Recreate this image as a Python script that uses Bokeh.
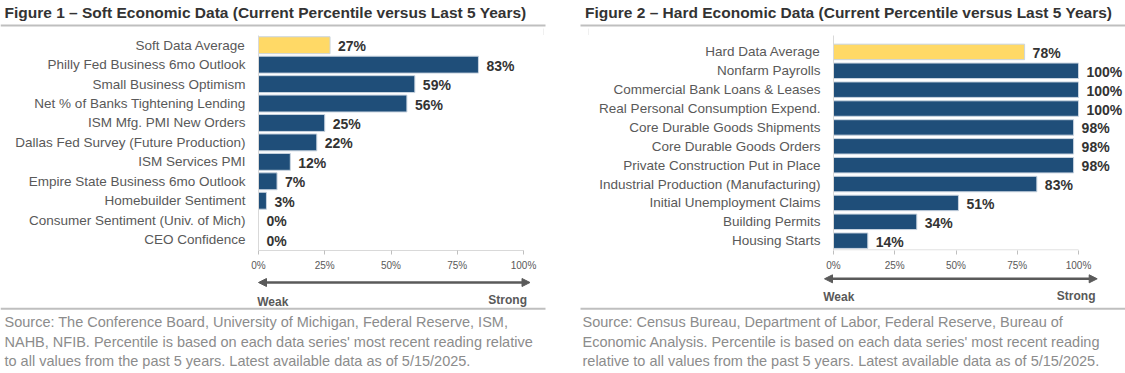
from bokeh.plotting import figure
from bokeh.models import (Range1d, FixedTicker, PrintfTickFormatter,
                          ColumnDataSource, LabelSet, Arrow, NormalHead)
from bokeh.layouts import row, column
from bokeh.core.properties import value
from bokeh.embed import file_html
from bokeh.resources import INLINE

# ---------------- data ----------------
soft_labels = ["Soft Data Average", "Philly Fed Business 6mo Outlook", "Small Business Optimism",
               "Net % of Banks Tightening Lending", "ISM Mfg. PMI New Orders",
               "Dallas Fed Survey (Future Production)", "ISM Services PMI",
               "Empire State Business 6mo Outlook", "Homebuilder Sentiment",
               "Consumer Sentiment (Univ. of Mich)", "CEO Confidence"]
soft_values = [27, 83, 59, 56, 25, 22, 12, 7, 3, 0, 0]

hard_labels = ["Hard Data Average", "Nonfarm Payrolls", "Commercial Bank Loans & Leases",
               "Real Personal Consumption Expend.", "Core Durable Goods Shipments",
               "Core Durable Goods Orders", "Private Construction Put in Place",
               "Industrial Production (Manufacturing)", "Initial Unemployment Claims",
               "Building Permits", "Housing Starts"]
hard_values = [78, 100, 100, 100, 98, 98, 98, 83, 51, 34, 14]

tick_values = [0, 25, 50, 75, 100]

soft_title = "Figure 1 \u2013 Soft Economic Data (Current Percentile versus Last 5 Years)"
hard_title = "Figure 2 \u2013 Hard Economic Data (Current Percentile versus Last 5 Years)"
soft_source = ["Source: The Conference Board, University of Michigan, Federal Reserve, ISM,",
               "NAHB, NFIB. Percentile is based on each data series' most recent reading relative",
               "to all values from the past 5 years. Latest available data as of 5/15/2025."]
hard_source = ["Source: Census Bureau, Department of Labor, Federal Reserve, Bureau of",
               "Economic Analysis. Percentile is based on each data series' most recent reading",
               "relative to all values from the past 5 years. Latest available data as of 5/15/2025."]
weak_text, strong_text = "Weak", "Strong"

# ---------------- styles / layout ----------------
NAVY = "#1f4e79"
YELLOW = "#ffd966"
FONT = "Liberation Sans"
W, H = 1125, 373
TOP_H = 35          # title band
CHART_H = 238       # chart row (frame 35..251 + axis border)
BOT_H = H - TOP_H - CHART_H
AXIS_B = 22         # bottom border used by the x axis


def band(height, y0):
    """A full-width figure whose frame is its whole canvas; y in page pixels (top-down)."""
    b = figure(width=W, height=height, output_backend="svg", toolbar_location=None, tools="",
               x_range=Range1d(0, W), y_range=Range1d(y0 + height, y0),
               x_axis_location=None, y_axis_location=None, title=None,
               min_border_left=0, min_border_right=0, min_border_top=0, min_border_bottom=0)
    b.outline_line_color = None
    b.xgrid.visible = False
    b.ygrid.visible = False
    b.background_fill_color = "white"
    b.border_fill_color = "white"
    return b


def chart(labels, values, cfg):
    n = len(labels)
    idx = list(range(n))
    ox, fl, fr, width = cfg["ox"], cfg["fl"], cfg["fr"], cfg["width"]
    p = figure(width=width, height=CHART_H, output_backend="svg", toolbar_location=None,
               tools="", title=None,
               x_range=Range1d(0, cfg["x_end"]), y_range=Range1d(cfg["y_bot"], cfg["y_top"]),
               min_border_left=fl - ox, min_border_right=width - (fr - ox),
               min_border_top=0, min_border_bottom=AXIS_B)
    p.outline_line_color = None
    p.background_fill_color = "white"
    p.border_fill_color = "white"
    p.xgrid.visible = False
    p.ygrid.visible = False

    colors = [YELLOW] + [NAVY] * (n - 1)
    src = ColumnDataSource(dict(pos=idx, val=values, color=colors,
                                txt=[f"{v}%" for v in values]))
    p.hbar(y="pos", right="val", left=0, height=cfg["bar_h"], fill_color="color",
           line_color="#c9d4e0", line_width=1, source=src)
    p.add_layout(LabelSet(x="val", y="pos", text="txt", source=src, x_offset=8, y_offset=-1,
                          text_font=value(FONT), text_font_style="bold",
                          text_font_size="14px", text_color="#333333",
                          text_baseline="middle", text_align="left"))

    ya = p.yaxis[0]
    ya.ticker = FixedTicker(ticks=idx)
    ya.major_label_overrides = {i: lab for i, lab in zip(idx, labels)}
    ya.axis_line_color = "#d9d9d9"
    ya.major_tick_line_color = None
    ya.minor_tick_line_color = None
    ya.major_tick_out = 0
    ya.major_tick_in = 0
    ya.major_label_standoff = 13
    ya.major_label_text_font = FONT
    ya.major_label_text_font_size = "13.5px"
    ya.major_label_text_color = "#595959"

    xa = p.xaxis[0]
    xa.ticker = FixedTicker(ticks=tick_values)
    xa.formatter = PrintfTickFormatter(format="%d%%")
    xa.axis_line_color = "#d9d9d9" if cfg["x_end"] == 100 else None
    xa.major_tick_line_color = "#bfbfbf"
    xa.major_tick_out = 4
    xa.major_tick_in = 0
    xa.minor_tick_line_color = None
    xa.major_label_standoff = 5
    xa.major_label_text_font = FONT
    xa.major_label_text_font_size = "10px"
    xa.major_label_text_color = "#595959"
    if cfg["x_end"] != 100:
        # axis baseline only over the 0-100% scale
        p.segment(x0=[tick_values[0]], x1=[tick_values[-1]], y0=[cfg["y_bot"] - 0.03],
                  y1=[cfg["y_bot"] - 0.03], line_color="#d9d9d9", line_width=1)
    return p


# chart frames (page pixels): left panel 0-100% at x 258..523, right at 833..1078
left_cfg = dict(ox=0, width=565, fl=258, fr=523, x_end=100, bar_h=0.87,
                y_top=-0.5, y_bot=10.56)
right_cfg = dict(ox=565, width=560, fl=833, fr=1125, x_end=100 + (1125 - 1078) / 2.45,
                 bar_h=0.82, y_top=-0.87, y_bot=10.52)

p_left = chart(soft_labels, soft_values, left_cfg)
p_right = chart(hard_labels, hard_values, right_cfg)

# ---------------- title band ----------------
top = band(TOP_H, 0)
top.text(x=[4, 584.6], y=[12, 12], text=[soft_title, hard_title], text_font=value(FONT),
         text_font_style="bold", text_font_size="15.5px", text_color="#333333",
         text_baseline="middle", text_align="left")
top.segment(x0=[0, 580], x1=[545, 1125], y0=[25, 25], y1=[25, 25],
            line_color="#bfbfbf", line_width=2)
# faint chart box edges
top.segment(x0=[543, 588], x1=[543, 588], y0=[28, 28], y1=[35, 35],
            line_color="#f0f0f0", line_width=1)

# ---------------- bottom band ----------------
bot = band(BOT_H, TOP_H + CHART_H)
head = dict(size=8, fill_color="#5a5a5a", line_color="#5a5a5a", line_width=1)
for (x0, x1, yy) in [(258, 529.5, 282), (824, 1096.7, 278.3)]:
    bot.add_layout(Arrow(x_start=x0, x_end=x1, y_start=yy, y_end=yy,
                         start=NormalHead(**head), end=NormalHead(**head),
                         line_color="#5a5a5a", line_width=2.5))
bot.text(x=[256.7, 822.7], y=[301, 296.7], text=[weak_text, weak_text], text_font=value(FONT),
         text_font_style="bold", text_font_size="12px", text_color="#595959",
         text_baseline="middle", text_align="left")
bot.text(x=[526.5, 1095], y=[299, 295], text=[strong_text, strong_text], text_font=value(FONT),
         text_font_style="bold", text_font_size="12px", text_color="#595959",
         text_baseline="middle", text_align="right")
bot.segment(x0=[0, 580], x1=[545, 1125], y0=[308.3, 308.3], y1=[308.3, 308.3],
            line_color="#bfbfbf", line_width=2)
src_y = [321.7, 341.2, 360]
bot.text(x=[4] * 3 + [582] * 3, y=src_y + src_y, text=soft_source + hard_source,
         text_font=value(FONT), text_font_size="14.5px", text_color="#8c8c8c",
         text_baseline="middle", text_align="left")

layout = column(top, row(p_left, p_right), bot)
open("out.html", "w").write(file_html(layout, INLINE))
